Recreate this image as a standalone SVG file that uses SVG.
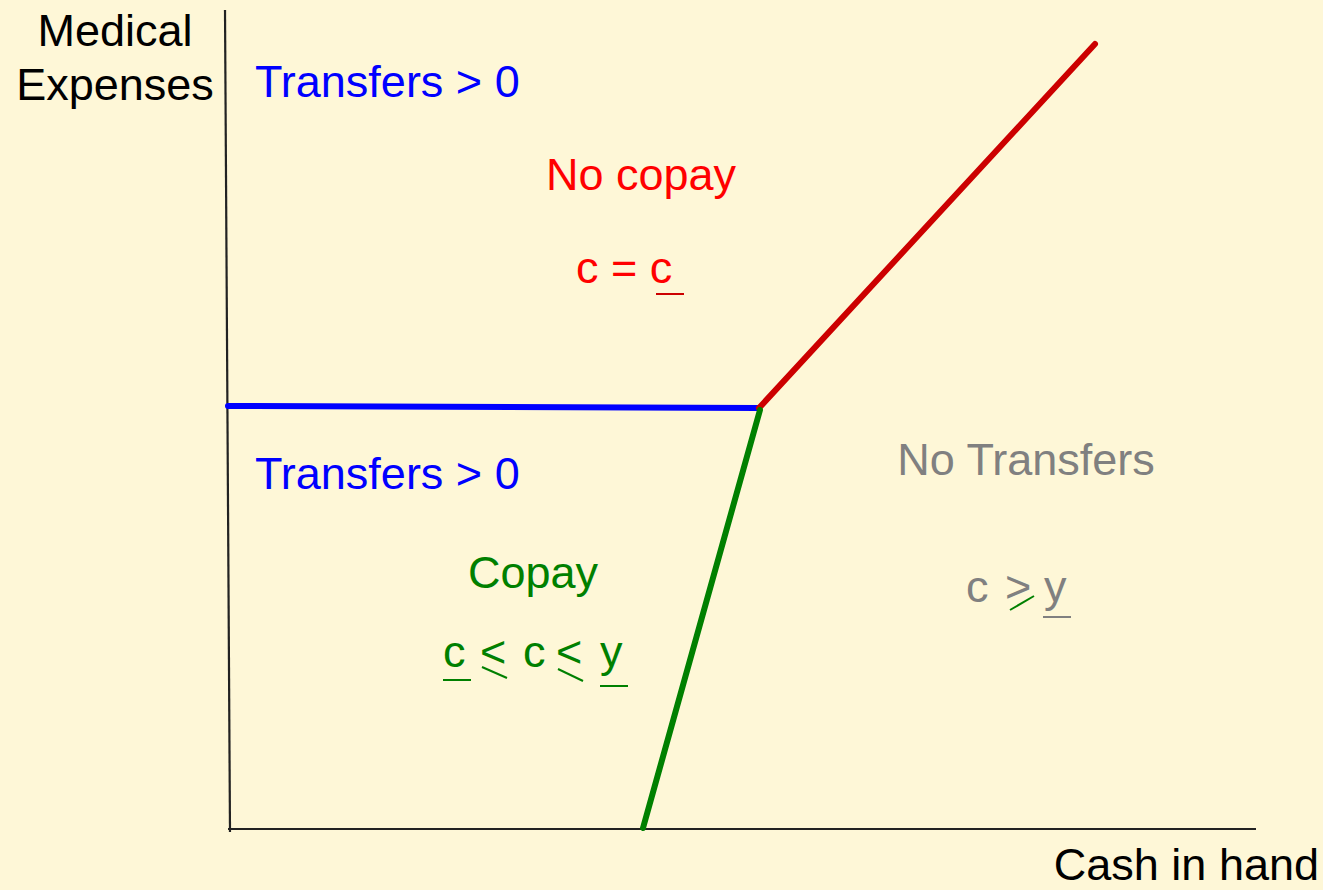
<svg xmlns="http://www.w3.org/2000/svg" width="1323" height="890" viewBox="0 0 1323 890">
<style>
text{font-family:"Liberation Sans",Arial,sans-serif;font-size:45px}
.b{fill:#0000FF}.r{fill:#FF0000}.g{fill:#008000}.k{fill:#000}.gr{fill:#808080}
.ax{stroke:#222;stroke-width:2.2;fill:none}
.ul{stroke-width:2;fill:none}
</style>
<rect width="1323" height="890" fill="#FEF7D7"/>
<g id="axes">
<line class="ax" x1="225" y1="10" x2="230" y2="832"/>
<line class="ax" x1="228" y1="829" x2="1256" y2="829"/>
</g>
<g id="connectors" stroke-linecap="round" fill="none">
<line x1="228" y1="406" x2="758" y2="408" stroke="#0000FF" stroke-width="6"/>
<line x1="759" y1="408" x2="1095" y2="44" stroke="#CC0000" stroke-width="6"/>
<line x1="760" y1="410" x2="643" y2="828" stroke="#008000" stroke-width="6"/>
</g>
<g id="labels-axes">
<text class="k" x="115" y="46" text-anchor="middle">Medical</text>
<text class="k" x="115" y="100" text-anchor="middle">Expenses</text>
<text class="k" x="1319" y="880" text-anchor="end">Cash in hand</text>
</g>
<g id="region-nocopay">
<text class="b" x="255" y="97" font-size="44.5">Transfers &gt; 0</text>
<text class="r" x="641" y="190" text-anchor="middle" font-size="46.5">No copay</text>
<text class="r" x="576" y="283">c = c</text>
<line class="ul" x1="656" y1="294" x2="684" y2="294" stroke="#CC0000"/>
</g>
<g id="region-copay">
<text class="b" x="255" y="489" font-size="44.5">Transfers &gt; 0</text>
<text class="g" x="533" y="588" text-anchor="middle">Copay</text>
<text class="g" x="443" y="667">c</text>
<line class="ul" x1="443" y1="680" x2="471" y2="680" stroke="#008000"/>
<text class="g" x="480" y="667">&lt;</text>
<line class="ul" x1="482" y1="667" x2="507" y2="678" stroke="#008000"/>
<text class="g" x="523" y="667">c</text>
<text class="g" x="556" y="667">&lt;</text>
<line class="ul" x1="558" y1="669" x2="583" y2="681" stroke="#008000"/>
<text class="g" x="600" y="667">y</text>
<line class="ul" x1="600" y1="686" x2="628" y2="686" stroke="#008000"/>
</g>
<g id="region-notransfers">
<text class="gr" x="1026" y="475" text-anchor="middle">No Transfers</text>
<text class="gr" x="966" y="602">c</text>
<text class="gr" x="1005" y="602">&gt;</text>
<line class="ul" x1="1010" y1="610" x2="1034" y2="596" stroke="#008000"/>
<text class="gr" x="1044" y="602">y</text>
<line class="ul" x1="1043" y1="617" x2="1071" y2="617" stroke="#808080"/>
</g>
</svg>
